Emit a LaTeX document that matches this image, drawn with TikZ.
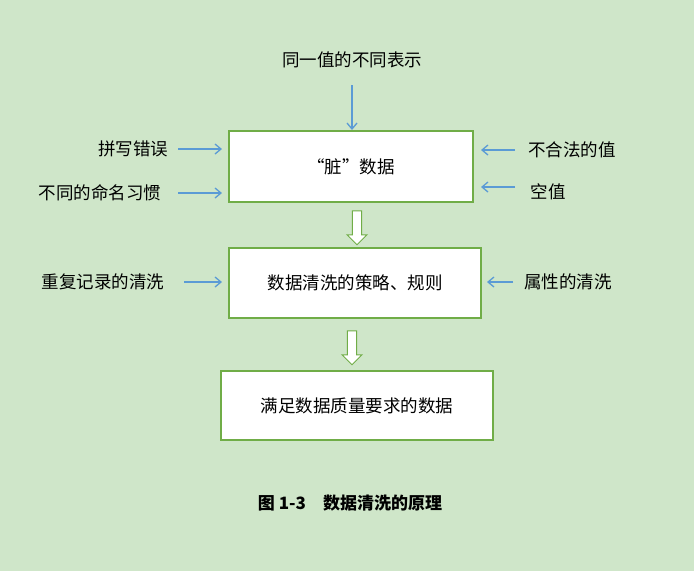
\documentclass[tikz,border=0pt]{standalone}
\usepackage{fontspec}
\setmainfont{Noto Sans CJK SC}
\usetikzlibrary{shapes.arrows,arrows.meta}
\definecolor{bg}{RGB}{207,230,201}
\definecolor{bd}{RGB}{112,173,71}
\definecolor{ar}{RGB}{91,155,213}
\begin{document}
\begin{tikzpicture}[x=1pt,y=-1pt,
 box/.style={draw=bd,line width=1.2pt,fill=white,font=\fontsize{17.5}{20}\selectfont},
 lab/.style={font=\fontsize{17.5}{20}\selectfont},
 arr/.style={draw=ar,line width=1.3pt,-{Straight Barb[length=6pt,width=10pt]}},
 hol/.style={single arrow,draw=bd,fill=white,line width=1pt,shape border rotate=270,minimum width=20pt,single arrow head extend=3pt,single arrow tip angle=90,minimum height=34pt,inner sep=2pt}]
\fill[bg] (0,0) rectangle (694,571);
\node[box,minimum width=244pt,minimum height=71pt] (b1) at (351,166.5) {“脏”数据};
\node[box,minimum width=252pt,minimum height=70pt] (b2) at (355,283) {数据清洗的策略、规则};
\node[box,minimum width=272pt,minimum height=69pt] (b3) at (357,405.5) {满足数据质量要求的数据};
\node[lab] (t) at (352,60) {同一值的不同表示};
\coordinate (ts) at (352,85); \coordinate (te) at (352,130);
\draw[arr] (ts) -- (te);
\node[lab] (l1) at (133,149) {拼写错误};
\node[lab] (l2) at (100,193) {不同的命名习惯};
\node[lab] (r1) at (572,150) {不合法的值};
\node[lab] (r2) at (548,192) {空值};
\node[lab] (l3) at (103,282) {重复记录的清洗};
\node[lab] (r3) at (568,282) {属性的清洗};
\coordinate (a1) at (178,149); \coordinate (a1e) at (222,149);
\coordinate (a2) at (178,193); \coordinate (a2e) at (222,193);
\coordinate (a3) at (515,150); \coordinate (a3e) at (481,150);
\coordinate (a4) at (515,187); \coordinate (a4e) at (481,187);
\coordinate (a5) at (184,282); \coordinate (a5e) at (222,282);
\coordinate (a6) at (513,282); \coordinate (a6e) at (487,282);
\foreach \s/\e in {a1/a1e,a2/a2e,a3/a3e,a4/a4e,a5/a5e,a6/a6e} \draw[arr] (\s) -- (\e);
\node[hol] (h1) at (357,225.5) {};
\node[hol] (h2) at (352,345.5) {};
\node[font=\bfseries\fontsize{17}{20}\selectfont] (cap) at (350,503) {图 1-3\quad 数据清洗的原理};
\end{tikzpicture}
\end{document}
